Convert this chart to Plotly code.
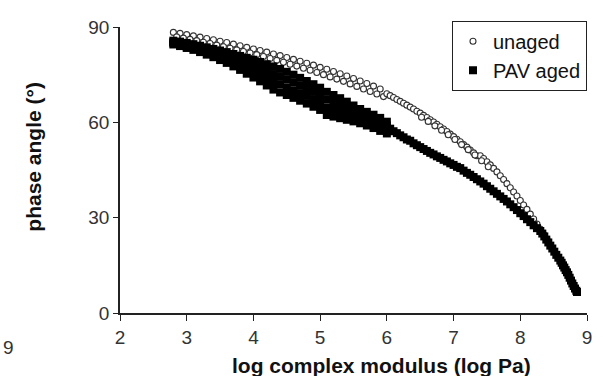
import plotly.graph_objects as go

# ---- data ----
# unaged binder: log |G*| (log Pa) and phase angle (deg)
unaged_logG = [
    2.80, 2.90, 3.00, 3.10, 3.20, 3.30, 3.40, 3.50, 3.60, 3.70, 3.80, 3.90, 4.00, 4.10, 4.20, 4.30,
    4.40, 4.50, 4.60, 4.70, 4.80, 4.90, 5.00, 5.10, 5.20, 5.30, 5.40, 5.50, 5.60, 5.70, 5.80, 5.90,
    2.85, 2.95, 3.05, 3.15, 3.25, 3.35, 3.45, 3.55, 3.65, 3.75, 3.85, 3.95, 4.05, 4.15, 4.25, 4.35,
    4.45, 4.55, 4.65, 4.75, 4.85, 4.95, 5.05, 5.15, 5.25, 5.35, 5.45, 5.55, 5.65, 5.75, 5.85, 5.95,
    6.00, 6.05, 6.10, 6.15, 6.20, 6.25, 6.30, 6.35, 6.40, 6.45, 6.50, 6.55, 6.60, 6.65, 6.70, 6.75,
    6.80, 6.85, 6.90, 6.95, 7.00, 7.05, 7.10, 7.15, 7.20, 7.25, 7.30, 7.35, 7.40, 7.45, 7.50, 7.55,
    7.60, 7.65, 7.70, 7.75, 7.80, 7.85, 7.90, 7.95, 8.00, 8.05, 8.10, 8.15, 8.20, 8.25, 8.30, 8.35, 8.40,
    6.52, 6.62, 6.72, 6.82, 6.92, 7.02, 7.12, 7.22, 7.32, 7.42, 7.52,
]
unaged_phase = [
    88.3, 88.0, 87.6, 87.2, 86.8, 86.4, 86.0, 85.5, 85.1, 84.6, 84.1, 83.6, 83.1, 82.6, 82.1, 81.5,
    81.0, 80.4, 79.8, 79.2, 78.6, 78.0, 77.3, 76.7, 76.0, 75.3, 74.6, 73.8, 73.0, 72.2, 71.4, 70.5,
    86.9, 86.5, 86.1, 85.7, 85.2, 84.8, 84.3, 83.8, 83.3, 82.8, 82.3, 81.8, 81.3, 80.7, 80.1, 79.5,
    78.9, 78.3, 77.7, 77.0, 76.4, 75.7, 75.0, 74.3, 73.6, 72.9, 72.1, 71.3, 70.5, 69.7, 68.9, 68.1,
    69.0, 68.4, 67.8, 67.2, 66.6, 66.0, 65.4, 64.8, 64.2, 63.5, 62.9, 62.2, 61.5, 60.8, 60.1, 59.4,
    58.6, 57.9, 57.1, 56.3, 55.5, 54.7, 53.9, 53.0, 52.2, 51.3, 50.4, 49.5, 49.5, 48.6, 47.6, 46.6,
    45.5, 44.4, 43.2, 42.0, 40.7, 39.4, 38.1, 36.8, 35.4, 34.0, 32.6, 31.1, 29.6, 28.0, 26.4, 24.8, 23.2,
    61.6, 60.3, 58.9, 57.5, 56.1, 54.6, 53.0, 51.4, 49.7, 47.9, 46.0,
]

# PAV aged binder: log |G*| (log Pa) and phase angle (deg)
aged_logG = [
    # upper edge of the isotherm band
    2.80, 2.90, 3.00, 3.10, 3.20, 3.30, 3.40, 3.50, 3.60, 3.70, 3.80, 3.90, 4.00, 4.10, 4.20, 4.30, 4.40,
    4.50, 4.60, 4.70, 4.80, 4.90, 5.00, 5.10, 5.20, 5.30, 5.40, 5.50, 5.60, 5.70, 5.80, 5.90, 6.00,
    # second row
    2.80, 2.90, 3.00, 3.10, 3.20, 3.30, 3.40, 3.50, 3.60, 3.70, 3.80, 3.90, 4.00, 4.10, 4.20, 4.30, 4.40,
    4.50, 4.60, 4.70, 4.80, 4.90, 5.00, 5.10, 5.20, 5.30, 5.40, 5.50, 5.60, 5.70, 5.80, 5.90, 6.00,
    # third row
    2.80, 2.90, 3.00, 3.10, 3.20, 3.30, 3.40, 3.50, 3.60, 3.70, 3.80, 3.90, 4.00, 4.10, 4.20, 4.30, 4.40,
    4.50, 4.60, 4.70, 4.80, 4.90, 5.00, 5.10, 5.20, 5.30, 5.40, 5.50, 5.60, 5.70, 5.80, 5.90, 6.00,
    # lower edge
    2.80, 2.90, 3.00, 3.10, 3.20, 3.30, 3.40, 3.50, 3.60, 3.70, 3.80, 3.90, 4.00, 4.10, 4.20, 4.30, 4.40,
    4.50, 4.60, 4.70, 4.80, 4.90, 5.00, 5.10, 5.20, 5.30, 5.40, 5.50, 5.60, 5.70, 5.80, 5.90, 6.00,
    # high-modulus tail
    6.05, 6.10, 6.15, 6.20, 6.25, 6.30, 6.35, 6.40, 6.45, 6.50, 6.55, 6.60, 6.65, 6.70, 6.75, 6.80,
    6.85, 6.90, 6.95, 7.00, 7.05, 7.10, 7.15, 7.20, 7.25, 7.30, 7.35, 7.40, 7.45, 7.50, 7.55, 7.60,
    7.65, 7.70, 7.75, 7.80, 7.85, 7.90, 7.95, 8.00, 8.05, 8.10, 8.15, 8.20, 8.25, 8.30, 8.33, 8.36,
    8.39, 8.42, 8.45, 8.48, 8.51, 8.54, 8.57, 8.60, 8.62, 8.64, 8.66, 8.68, 8.70, 8.72, 8.74, 8.76,
    8.78, 8.80, 8.82, 8.84, 8.85,
]
aged_phase = [
    85.7, 85.4, 85.0, 84.6, 84.1, 83.6, 83.1, 82.6, 82.1, 81.5, 80.9, 80.3, 79.7, 79.0, 78.3, 77.6, 76.8,
    75.9, 75.0, 74.0, 73.0, 72.0, 70.9, 69.6, 68.6, 67.6, 66.5, 65.3, 64.2, 63.3, 62.4, 61.4, 60.2,
    85.3, 84.9, 84.5, 84.0, 83.4, 82.8, 82.2, 81.6, 81.0, 80.2, 79.4, 78.6, 77.8, 77.0, 76.1, 75.2, 74.3,
    73.5, 72.6, 71.6, 70.6, 69.6, 68.6, 67.2, 66.3, 65.5, 64.6, 63.6, 62.7, 61.9, 61.0, 60.0, 59.0,
    84.9, 84.5, 83.9, 83.4, 82.8, 82.1, 81.4, 80.6, 79.8, 78.9, 78.0, 77.0, 76.0, 74.9, 73.8, 72.7, 71.9,
    71.0, 70.1, 69.2, 68.3, 67.3, 66.2, 64.7, 64.1, 63.4, 62.7, 62.0, 61.2, 60.4, 59.6, 58.6, 57.7,
    84.5, 84.0, 83.4, 82.8, 82.1, 81.3, 80.5, 79.6, 78.7, 77.6, 76.5, 75.3, 74.1, 72.9, 71.6, 70.3, 69.4,
    68.6, 67.7, 66.8, 65.9, 64.9, 63.9, 62.3, 61.8, 61.3, 60.8, 60.3, 59.7, 59.0, 58.2, 57.3, 56.5,
    58.0, 57.2, 56.6, 55.9, 55.3, 54.6, 54.2, 53.4, 52.8, 52.2, 51.6, 51.0, 50.4, 49.9, 49.3, 48.8,
    48.2, 47.7, 47.1, 46.6, 46.0, 45.6, 44.8, 44.1, 43.5, 42.8, 42.1, 41.4, 40.7, 39.9, 39.1, 38.3,
    37.5, 36.7, 35.9, 35.1, 34.2, 33.3, 32.4, 31.4, 30.5, 29.5, 28.6, 27.6, 26.7, 25.8, 25.0, 24.1,
    23.1, 22.2, 21.2, 20.3, 19.3, 18.3, 17.4, 16.5, 15.8, 15.0, 14.3, 13.5, 12.8, 12.0, 11.1, 10.2,
    9.3, 8.5, 7.7, 7.0, 6.6,
]

x_ticks = [2, 3, 4, 5, 6, 7, 8, 9]
y_ticks = [0, 30, 60, 90]

FONT = "Liberation Sans, Arial, sans-serif"

fig = go.Figure()
fig.add_trace(go.Scatter(
    x=unaged_logG, y=unaged_phase, mode="markers", name="unaged",
    marker=dict(symbol="circle", size=6, color="white",
                line=dict(color="#333333", width=1.1)),
))
fig.add_trace(go.Scatter(
    x=aged_logG, y=aged_phase, mode="markers", name="PAV aged",
    marker=dict(symbol="square", size=8, color="black", line=dict(width=0)),
))

fig.update_layout(
    width=603, height=376,
    margin=dict(l=120, r=11, t=27, b=63),
    paper_bgcolor="white", plot_bgcolor="white",
    font=dict(family=FONT, color="#222", size=19),
    showlegend=True,
    legend=dict(
        x=1.0, xanchor="right", y=1.022, yanchor="top",
        bgcolor="white", bordercolor="#222", borderwidth=1,
        font=dict(size=20, color="#111"),
        itemwidth=30, tracegroupgap=0,
    ),
    xaxis=dict(
        range=[2, 9], tickvals=x_ticks, ticks="outside", ticklen=6, tickwidth=1.2,
        tickcolor="#222", showline=True, linecolor="#222", linewidth=1.5,
        showgrid=False, zeroline=False, tickfont=dict(size=19, color="#333"),
    ),
    yaxis=dict(
        range=[0, 90], tickvals=y_ticks, ticks="outside", ticklen=5, tickwidth=1.2,
        tickcolor="#222", showline=True, linecolor="#222", linewidth=1.5,
        showgrid=False, zeroline=False, tickfont=dict(size=19, color="#333"),
    ),
    annotations=[
        dict(text="<b>log complex modulus (log Pa)</b>", xref="paper", yref="paper",
             x=0.561, y=-0.183, xanchor="center", yanchor="middle", showarrow=False,
             font=dict(size=21, color="#111")),
        dict(text="<b>phase angle (°)</b>", xref="paper", yref="paper",
             x=-0.186, y=0.547, xanchor="center", yanchor="middle", textangle=-90,
             showarrow=False, font=dict(size=21, color="#111")),
        dict(text="9", xref="paper", yref="paper", x=-0.238, y=-0.122,
             xanchor="center", yanchor="middle", showarrow=False,
             font=dict(size=19, color="#333")),
    ],
)

fig.write_html("out.html")
